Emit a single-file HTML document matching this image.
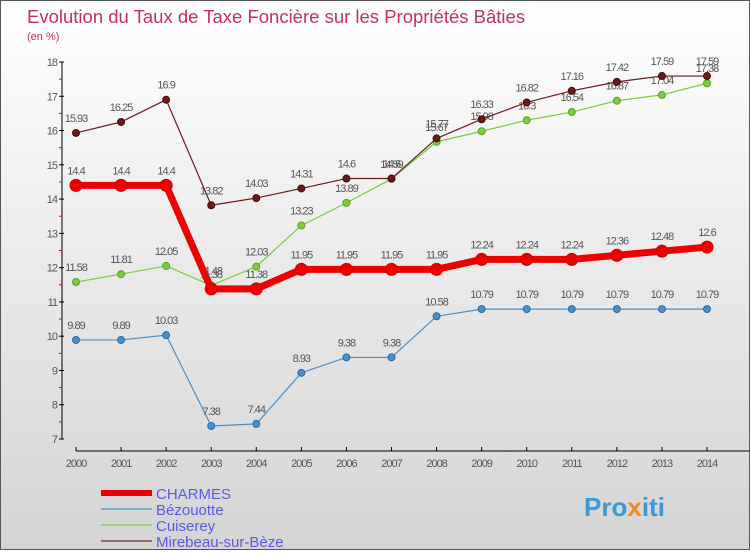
<!DOCTYPE html>
<html><head><meta charset="utf-8"><style>
body{margin:0;width:750px;height:550px;overflow:hidden;font-family:"Liberation Sans",sans-serif}
#c{position:absolute;left:0;top:0;width:748px;height:548px;border:1px solid #555;background:linear-gradient(#ffffff,#d4d4d4)}
</style></head><body>
<div id="c">
<svg id="s" width="748" height="548" xmlns="http://www.w3.org/2000/svg">
<text x="26" y="22" font-size="18.5" fill="#c8305a">Evolution du Taux de Taxe Foncière sur les Propriétés Bâties</text>
<text x="26" y="39" font-size="11" fill="#c8305a">(en %)</text>
<g id="axes"></g><g id="series"></g><g id="legend"></g>
<text x="583" y="515" font-size="26" font-weight="bold" fill="#3a9ad8">Pro<tspan fill="#f08a20">x</tspan>iti</text>
</svg></div>
<script>
const years=[2000,2001,2002,2003,2004,2005,2006,2007,2008,2009,2010,2011,2012,2013,2014];
const yTicks=[7,8,9,10,11,12,13,14,15,16,17,18];
const charmes=[14.4,14.4,14.4,11.38,11.38,11.95,11.95,11.95,11.95,12.24,12.24,12.24,12.36,12.48,12.6];
const bezouotte=[9.89,9.89,10.03,7.38,7.44,8.93,9.38,9.38,10.58,10.79,10.79,10.79,10.79,10.79,10.79];
const cuiserey=[11.58,11.81,12.05,11.48,12.03,13.23,13.89,14.59,15.67,15.98,16.3,16.54,16.87,17.04,17.38];
const mirebeau=[15.93,16.25,16.9,13.82,14.03,14.31,14.6,14.6,15.77,16.33,16.82,17.16,17.42,17.59,17.59];
const NS="http://www.w3.org/2000/svg";
const X=i=>75+i*(706-75)/(years.length-1);
const Y=v=>438-(v-7)*(438-61)/11;
function el(t,a,p){const e=document.createElementNS(NS,t);for(const k in a)e.setAttribute(k,a[k]);p.appendChild(e);return e;}
const ax=document.getElementById('axes');
let yl=el('line',{x1:61,y1:Y(18),x2:61,y2:Y(7),stroke:'#000'},ax);


yTicks.forEach(v=>{
 el('line',{x1:58,y1:Y(v),x2:63,y2:Y(v),stroke:'#000'},ax);
 if(v<18)el('line',{x1:58,y1:Y(v+0.5),x2:61,y2:Y(v+0.5),stroke:'#e00'},ax);
 const t=el('text',{x:56,y:Y(v)+4,'font-size':11,'text-anchor':'end',fill:'#555','letter-spacing':'-1'},ax);t.textContent=v;
 
 
});
let xl=el('line',{x1:75,y1:450,x2:748,y2:450,stroke:'#000'},ax);


years.forEach((y,i)=>{
 el('line',{x1:X(i),y1:446,x2:X(i),y2:450,stroke:'#000'},ax);
 const t=el('text',{x:X(i),y:466,'font-size':11,'text-anchor':'middle',fill:'#555','letter-spacing':'-1'},ax);t.textContent=y;
 
 
});
const sg=document.getElementById('series');
function series(d,col,dark,w,r,name){
 const g=el('g',{},sg);
 
 
 el('polyline',{points:d.map((v,i)=>X(i)+','+Y(v)).join(' '),fill:'none',stroke:col,'stroke-width':w,'stroke-linejoin':'round'},g);
 d.forEach((v,i)=>{
  const c=el('circle',{cx:X(i),cy:Y(v),r:r,fill:col,stroke:dark,'stroke-width':1},g);
  
  
  const t=el('text',{x:X(i),y:Y(v)-11,'font-size':11,'text-anchor':'middle',fill:'#555','letter-spacing':'-1'},g);t.textContent=v;
  
  
 });
}
series(bezouotte,'#4a90c8','#2a6aa0',1.2,3.5,'bezouotte');
series(cuiserey,'#7ccc3c','#5aa02a',1.2,3.5,'cuiserey');
series(mirebeau,'#6a1a1a','#4a0a0a',1.2,3.5,'mirebeau');
series(charmes,'#ee0000','#cc0000',7,6,'charmes');
const lg=document.getElementById('legend');
const leg=[['CHARMES','#ee0000',6],['Bézouotte','#7aaacc',2],['Cuiserey','#9ad07a',2],['Mirebeau-sur-Bèze','#9a6a6a',2]];
leg.forEach((l,i)=>{
 const y=492+i*16;
 const g=el('g',{},lg);
 
 
 el('line',{x1:100,y1:y,x2:151,y2:y,stroke:l[1],'stroke-width':l[2]},g);
 const t=el('text',{x:155,y:y+6,'font-size':15,fill:'#5a5ae8'},g);t.textContent=l[0];
});
</script>
</body></html>
